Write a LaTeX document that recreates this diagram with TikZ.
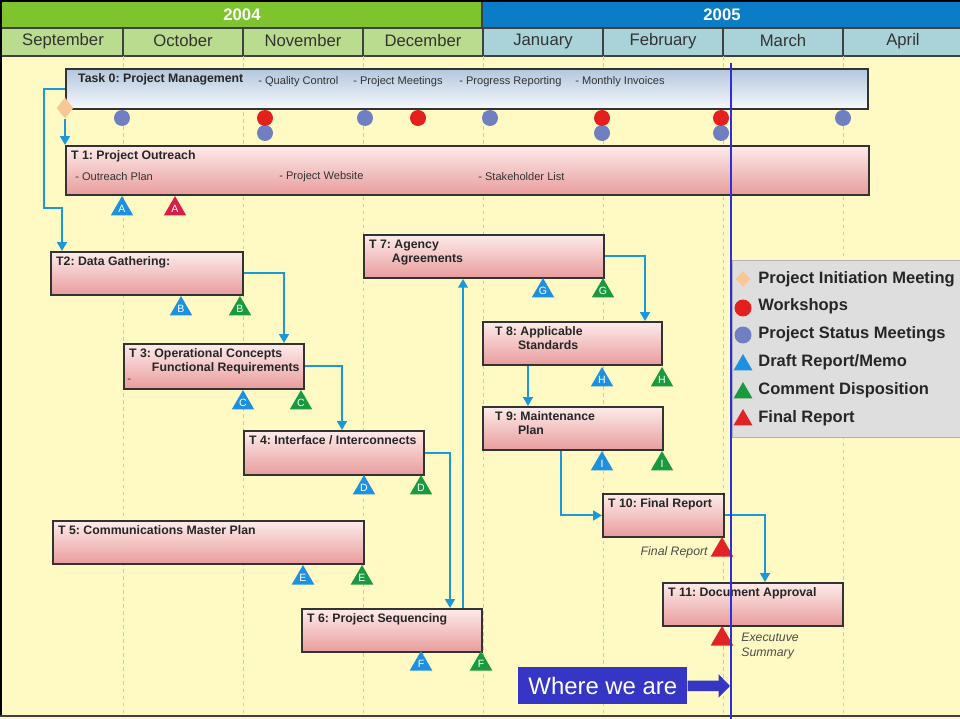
\documentclass[tikz,border=0pt]{standalone}
\usepackage{fontspec}
\setmainfont{Liberation Sans}
\usepackage{tikz}
\usetikzlibrary{arrows,arrows.meta,calc,shapes.geometric}
\frenchspacing
\definecolor{bgyel}{HTML}{FFF9C4}
\definecolor{yrgreen}{HTML}{7DC42E}
\definecolor{yrblue}{HTML}{0A7DC6}
\definecolor{mogreen}{HTML}{B9DC8E}
\definecolor{moblue}{HTML}{A9D3D8}
\definecolor{flowblue}{HTML}{1B98D8}
\definecolor{draftblue}{HTML}{1E90E0}
\definecolor{okgreen}{HTML}{1A9A3E}
\definecolor{finred}{HTML}{E02424}
\definecolor{crimson}{HTML}{D81E48}
\definecolor{wsred}{HTML}{E3201E}
\definecolor{statblue}{HTML}{6E80C2}
\definecolor{peach}{HTML}{F7C896}
\definecolor{nowblue}{HTML}{2E2EDC}
\definecolor{herebox}{HTML}{3535C6}
\definecolor{pinktop}{HTML}{FDEBEB}
\definecolor{pinkbot}{HTML}{E99C9C}
\definecolor{mgmttop}{HTML}{B3C7DD}
\definecolor{mgmtbot}{HTML}{F6F9FC}
\newcommand{\ttl}{\fontsize{7}{8.2}\selectfont\bfseries}
\newcommand{\itm}{\fontsize{6.3}{7.5}\selectfont}
\newcommand{\mon}{\fontsize{9.5}{11}\selectfont}
\newcommand{\lgd}{\fontsize{9.4}{11}\selectfont\bfseries}
\newcommand{\ind}{\hspace*{13pt}}

\tikzset{
  task/.style={draw=black!80, line width=1.1pt, top color=pinktop, bottom color=pinkbot, anchor=north west, inner sep=0pt},
  tasktitle/.style={anchor=north west, inner xsep=3.3pt, inner ysep=3pt, align=left, font=\ttl, text=black!85},
  deliv/.style={anchor=west, inner sep=0pt, font=\itm, text=black!80},
  flow/.style={draw=flowblue, line width=1.1pt, -{Triangle[length=5pt,width=5.5pt]}},
  tri/.style={regular polygon, regular polygon sides=3, minimum size=0.52cm, inner sep=0pt, text=white, font=\fontsize{6}{6}\selectfont},
  draft/.style={tri, fill=draftblue},
  cmt/.style={tri, fill=okgreen},
  fin/.style={tri, fill=finred},
  ws/.style={circle, fill=wsred, minimum size=0.32cm, inner sep=0pt},
  stat/.style={circle, fill=statblue, minimum size=0.32cm, inner sep=0pt},
  kick/.style={diamond, fill=peach, minimum width=0.34cm, minimum height=0.42cm, inner sep=0pt},
  month/.style={font=\mon, text=black!80},
  year/.style={font=\mon\bfseries, text=white},
  hdrline/.style={draw=black!75, line width=0.6pt},
  grid/.style={draw=black!22, dash pattern=on 2pt off 2pt, line width=0.5pt},
  note/.style={font=\fontsize{7}{8.4}\selectfont\itshape, text=black!70, inner sep=0pt, align=left},
}

\begin{document}
\begin{tikzpicture}[x=0.02cm, y=-0.02cm]
  \useasboundingbox (0,0) rectangle (960,719);
  % calendar
  \fill[bgyel] (0,56) rectangle (960,719);
  \fill[yrgreen] (0,0) rectangle (482,28);
  \fill[yrblue] (482,0) rectangle (960,28);
  \fill[mogreen] (0,28) rectangle (482,56);
  \fill[moblue] (482,28) rectangle (960,56);
  \node[year] (y2004) at (242,15) {2004};
  \node[year] (y2005) at (722,15) {2005};
  \foreach \m [count=\i] in {September,October,November,December,January,February,March,April}
    \node[month] (m\i) at ({120*\i-57},41) {\m};
  \draw[hdrline] (0,28) -- (960,28) (0,56) -- (960,56) (482,0) -- (482,28);
  \foreach \i in {1,...,7} {
    \draw[hdrline] ({3+120*\i},28) -- ({3+120*\i},56);
    \draw[grid] ({3+120*\i},56) -- ({3+120*\i},714);
  }
  \draw[line width=1.7pt] (1,716) -- (1,1) -- (960,1);
  \draw[line width=1.4pt, black!75] (0,716) -- (960,716);

  % tasks
  \node[task, top color=mgmttop, bottom color=mgmtbot, minimum width=16.04cm, minimum height=0.8cm] (t0) at (65,68) {};
  \node[tasktitle, xshift=4pt] (t0t) at (t0.north west) {Task 0: Project Management};
  \node[deliv] (t0a) at (258,82) {- Quality Control};
  \node[deliv] (t0b) at (353,82) {- Project Meetings};
  \node[deliv] (t0c) at (459,82) {- Progress Reporting};
  \node[deliv] (t0d) at (575,82) {- Monthly Invoices};
  \node[task, minimum width=16.06cm, minimum height=0.98cm] (t1) at (65,145) {};
  \node[tasktitle] (t1t) at (t1.north west) {T 1: Project Outreach};
  \node[deliv] (t1a) at (75,177) {- Outreach Plan};
  \node[deliv] (t1b) at (279,177) {- Project Website};
  \node[deliv] (t1c) at (478,177) {- Stakeholder List};
  \node[task, minimum width=3.84cm, minimum height=0.86cm] (t2) at (50,251) {};
  \node[tasktitle] (t2t) at (t2.north west) {T2: Data Gathering:};
  \node[task, minimum width=3.6cm, minimum height=0.9cm] (t3) at (123,343) {};
  \node[tasktitle] (t3t) at (t3.north west) {T 3: Operational Concepts\\\ind Functional Requirements};
  \node[deliv, text=red!60!black] (t3a) at (127,381) {-};
  \node[task, minimum width=3.6cm, minimum height=0.88cm] (t4) at (243,430) {};
  \node[tasktitle] (t4t) at (t4.north west) {T 4: Interface / Interconnects};
  \node[task, minimum width=6.22cm, minimum height=0.86cm] (t5) at (52,520) {};
  \node[tasktitle] (t5t) at (t5.north west) {T 5: Communications Master Plan};
  \node[task, minimum width=3.6cm, minimum height=0.86cm] (t6) at (301,608) {};
  \node[tasktitle] (t6t) at (t6.north west) {T 6: Project Sequencing};
  \node[task, minimum width=4.8cm, minimum height=0.86cm] (t7) at (363,234) {};
  \node[tasktitle] (t7t) at (t7.north west) {T 7: Agency\\\ind Agreements};
  \node[task, minimum width=3.58cm, minimum height=0.86cm] (t8) at (482,321) {};
  \node[tasktitle, xshift=4pt] (t8t) at (t8.north west) {T 8: Applicable\\\ind Standards};
  \node[task, minimum width=3.6cm, minimum height=0.86cm] (t9) at (482,406) {};
  \node[tasktitle, xshift=4pt] (t9t) at (t9.north west) {T 9: Maintenance\\\ind Plan};
  \node[task, minimum width=2.42cm, minimum height=0.86cm] (t10) at (602,493) {};
  \node[tasktitle] (t10t) at (t10.north west) {T 10: Final Report};
  \node[task, minimum width=3.6cm, minimum height=0.86cm] (t11) at (662,582) {};
  \node[tasktitle] (t11t) at (t11.north west) {T 11: Document Approval};

  % dependencies
  \node[kick] (kick) at (65,108) {};
  \coordinate (bend) at (44,208);
  \draw[flow] (t0.west) -| (bend) -| ($(t2.north west)+(12,0)$);
  \draw[flow] (kick.south) -- (kick.south |- t1.north);
  \draw[flow] (t2.east) -| ($(t3.north west)+(161,0)$);
  \draw[flow] (t3.east) -| ($(t4.north west)+(99,0)$);
  \draw[flow] (t4.east) -| ($(t6.north west)+(149,0)$);
  \draw[flow] ($(t6.north west)+(162,0)$) -- ($(t7.south west)+(100,0)$);
  \draw[flow] (t7.east) -| ($(t8.north west)+(163,0)$);
  \draw[flow] ($(t8.south west)+(46,0)$) -- ($(t9.north west)+(46,0)$);
  \draw[flow] ($(t9.south west)+(79,0)$) |- (t10.west);
  \draw[flow] (t10.east) -| ($(t11.north west)+(103,0)$);

  % meetings
  \foreach \x [count=\i] in {122,365,490,843}
    \node[stat] (sm\i) at (\x,118) {};
  \foreach \x [count=\i] in {265,602,721}
    \node[stat] (sn\i) at (\x,133) {};
  \foreach \x [count=\i] in {265,418,602,721}
    \node[ws] (ws\i) at (\x,118) {};

  % deliverables
  \foreach \l/\x/\y in {A/122/209,B/181/309,C/243/403,D/364/488,E/303/578,F/421/664,G/543/291,H/602/380,I/602/464}
    \node[draft] (d\l) at (\x,\y) {\l};
  \foreach \l/\x/\y in {B/240/309,C/301/403,D/421/488,E/362/578,F/481/664,G/603/291,H/662/380,I/662/464}
    \node[cmt] (c\l) at (\x,\y) {\l};
  \node[fin, fill=crimson] (fA) at (175,209) {A};
  \node[fin] (fJ) at (722,550) {};
  \node[note, anchor=east] (fJl) at (708,552) {Final Report};
  \node[fin] (fK) at (722,639) {};
  \node[note, anchor=north west] (fKl) at (741,633) {Executuve\\Summary};

  % legend
  \node[draw=black!30, fill=black!13, anchor=north west, minimum width=4.56cm, minimum height=3.54cm, inner sep=0pt] (legend) at (732,260) {};
  \node[kick, minimum width=0.3cm, minimum height=0.32cm] (lg1s) at (743,279) {};
  \node[ws, minimum size=0.34cm] (lg2s) at (743,308) {};
  \node[stat, minimum size=0.34cm] (lg3s) at (743,335) {};
  \node[draft, minimum size=0.44cm] (lg4s) at (743,365) {};
  \node[cmt, minimum size=0.44cm] (lg5s) at (743,393) {};
  \node[fin, minimum size=0.44cm] (lg6s) at (743,420) {};
  \foreach \t [count=\i] in {Project Initiation Meeting,Workshops,Project Status Meetings,Draft Report/Memo,Comment Disposition,Final Report}
    \node[anchor=west, inner sep=0pt, font=\lgd, text=black!85] (lg\i) at (758,{251+27.8*\i}) {\t};

  % where we are
  \coordinate (nowtop) at (731,63);
  \coordinate (nowbot) at (731,719);
  \draw[nowblue, line width=1.1pt] (nowtop) -- (nowbot);
  \node[fill=herebox, text=white, font=\fontsize{13.6}{16}\selectfont, anchor=north west, minimum width=3.38cm, minimum height=0.74cm, inner sep=0pt] (here) at (518,667) {Where we are};
  \coordinate (nowpt) at (730,686);
  \draw[herebox, line width=6pt, -{Triangle[length=6.5pt,width=13pt]}] (here.east) -- (nowpt);
\end{tikzpicture}
\end{document}
